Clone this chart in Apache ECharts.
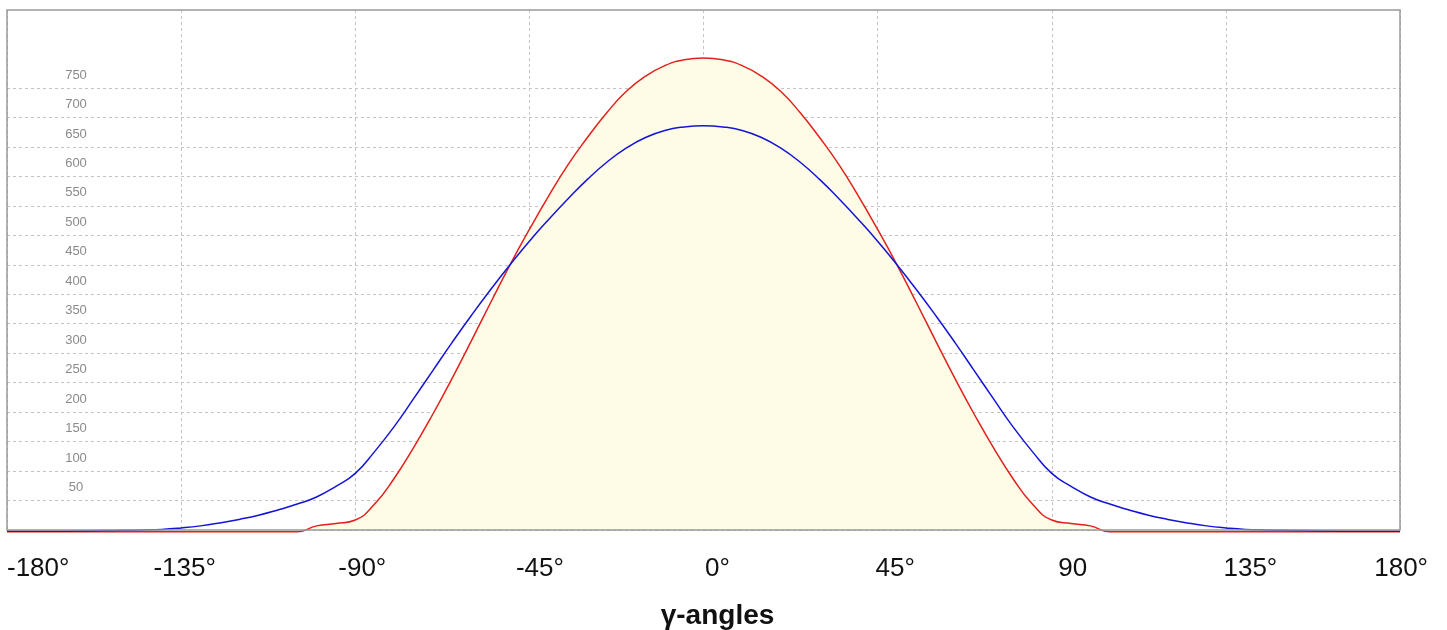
<!DOCTYPE html>
<html>
<head>
<meta charset="utf-8">
<script src="https://cdn.jsdelivr.net/npm/echarts@6/dist/echarts.min.js"></script>
<style>
html,body{margin:0;padding:0;background:#fff;}
#chart{width:1447px;height:630px;}
</style>
</head>
<body>
<div id="chart"></div>
<script>
// angles in degrees (5° steps)
var angles = [-180,-175,-170,-165,-160,-155,-150,-145,-140,-135,-130,-125,-120,-115,-110,-105,-100,-95,-90,-85,-80,-75,-70,-65,-60,-55,-50,-45,-40,-35,-30,-25,-20,-15,-10,-5,
  0,
  5,10,15,20,25,30,35,40,45,50,55,60,65,70,75,80,85,90,95,100,105,110,115,120,125,130,135,140,145,150,155,160,165,170,175,180];
var redValues = [-3,-3,-3,-3,-3,-3,-3,-3,-3,-3,-3,-3,-3,-3,-3,-3,7,11,17,44,87,139,196,257,321,386,450,510,567,620,666,708,744,770,788,798,
  801,
  798,788,770,744,708,666,620,567,510,450,386,321,257,196,139,87,44,17,11,7,-3,-3,-3,-3,-3,-3,-3,-3,-3,-3,-3,-3,-3,-3,-3,-3];
var blueValues = [-2,-2,-2,-2,-1.5,-1,-0.5,0,1,3.5,7,12,18,25,34,44,56,74,96,133,175,222,270,318,364,408,450,490,527,562,595,624,648,666,678,684,
  686,
  684,678,666,648,624,595,562,527,490,450,408,364,318,270,222,175,133,96,74,56,44,34,25,18,12,7,3.5,1,0,-0.5,-1,-1.5,-2,-2,-2,-2];
var xTickLabels = ['-180°','-135°','-90°','-45°','0°','45°','90','135°','180°'];
var xTitle = 'γ-angles';

function pairs(vals){ return angles.map(function(a,i){ return [a, vals[i]]; }); }

var chart = echarts.init(document.getElementById('chart'));
var font = "'Liberation Sans', Arial, sans-serif";
var dashed = {show:true, lineStyle:{color:'#c4c4c4', type:[3,3], width:1}};
chart.setOption({
  animation:false,
  backgroundColor:'#fff',
  grid:[
    {left:7, right:47, top:10, bottom:100, show:true, borderColor:'#999', borderWidth:1.5, backgroundColor:'transparent', z:5},
    {left:7, right:47, top:88, bottom:100},
    {left:7, right:19, top:88, bottom:100}
  ],
  graphic:[
    {type:'text', x:717.5, y:616, z:10,
     style:{text:xTitle, align:'center', verticalAlign:'middle', fontSize:28, fontWeight:'bold', fill:'#111', fontFamily:font}}
  ],
  xAxis:[
    {gridIndex:0, type:'value', min:-180, max:180, interval:45, axisLine:{show:false}, axisTick:{show:false}, axisLabel:{show:false}, splitLine:dashed},
    {gridIndex:1, type:'value', min:-180, max:180, interval:45, axisLine:{show:false}, axisTick:{show:false}, axisLabel:{show:false}, splitLine:{show:false}},
    {gridIndex:2, type:'category', data:xTickLabels, boundaryGap:false, axisLine:{show:false}, axisTick:{show:false}, splitLine:{show:false},
     axisLabel:{show:true, fontSize:26, color:'#111', fontFamily:font, margin:26, interval:0, alignMinLabel:'left', alignMaxLabel:'right'}}
  ],
  yAxis:[
    {gridIndex:0, type:'value', min:0, max:1, axisLine:{show:false}, axisTick:{show:false}, axisLabel:{show:false}, splitLine:{show:false}},
    {gridIndex:1, type:'value', min:0, max:750, interval:50, axisLine:{show:false}, axisTick:{show:false}, splitLine:dashed,
     axisLabel:{inside:true, margin:69, align:'center', verticalAlign:'bottom', lineHeight:26, fontSize:13, color:'#8a8a8a', fontFamily:font, showMinLabel:false}},
    {gridIndex:2, type:'value', min:0, max:1, show:false}
  ],
  series:[
    {type:'line', name:'red', xAxisIndex:1, yAxisIndex:1, data:pairs(redValues), smooth:0.5, showSymbol:false, clip:false,
     lineStyle:{color:'#e3201c', width:1.5}, itemStyle:{color:'#e3201c'}, areaStyle:{color:'#fefce6', opacity:1}, z:2},
    {type:'line', name:'blue', xAxisIndex:1, yAxisIndex:1, data:pairs(blueValues), smooth:0.5, showSymbol:false, clip:false,
     lineStyle:{color:'#1414d8', width:1.5}, itemStyle:{color:'#1414d8'}, z:3}
  ]
});
</script>
</body>
</html>
